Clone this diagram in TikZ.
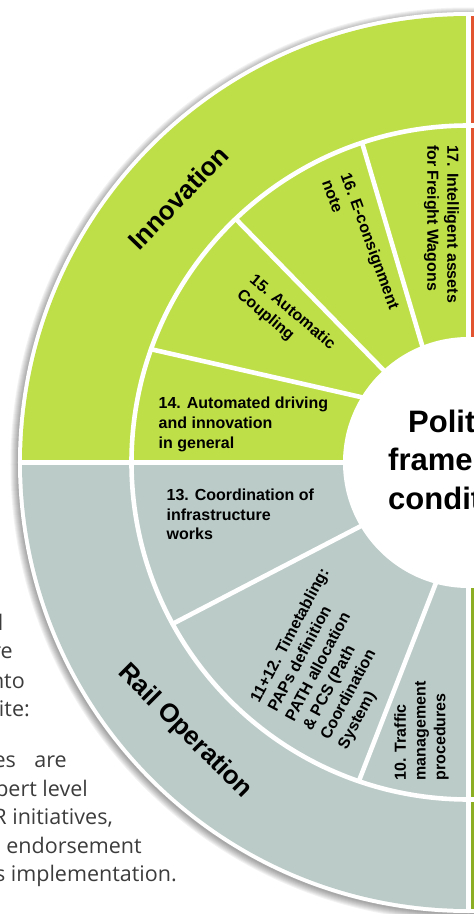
\documentclass[tikz,border=0pt]{standalone}
\usepackage{fontspec}
\setmainfont{Liberation Sans}
\newfontfamily\bodyfont{Open Sans}
\usepackage{tikz}

\definecolor{innov}{RGB}{191,223,72}
\definecolor{railop}{RGB}{187,203,200}
\definecolor{polred}{RGB}{226,84,47}
\definecolor{polgreen}{RGB}{140,174,35}
\definecolor{bodygrey}{RGB}{60,60,60}

\begin{document}
\begin{tikzpicture}[x=1pt,y=1pt,
    sep/.style={white,line width=4.6pt},
    area/.style={font=\bfseries\fontsize{26}{30}\selectfont,inner sep=0pt},
    item/.style={font=\bfseries\fontsize{16}{19.8}\selectfont,align=left,inner sep=0pt},
    core/.style={font=\bfseries\fontsize{31}{38}\selectfont,inner sep=0pt,anchor=base west},
    body/.style={font=\bodyfont\fontsize{21.5}{28}\selectfont,text=bodygrey,inner sep=0pt,anchor=base east}]
  \clip (-468.5,-451.5) rectangle (5.5,462.5);

  % paragraph running round the wheel
  \node[body,font=\bodyfont\bfseries\fontsize{21.5}{28}\selectfont] (t1) at (-465,-167.5) {l};
  \node[body] (t2) at (-455.5,-195.5) {re};
  \node[body] (t3) at (-443.5,-225.5) {nto};
  \node[body] (t4) at (-438.5,-253.5) {ite:};
  \node[body] (t5) at (-401.5,-304.5) {es\hspace{13pt} are};
  \node[body] (t6) at (-380.5,-333.5) {pert level};
  \node[body] (t7) at (-355.5,-361.5) {R initiatives,};
  \node[body] (t8) at (-326.5,-390.5) {l endorsement};
  \node[body] (t9) at (-291.5,-418.5) {s implementation.};

  % wheel
  \foreach \k in {1,...,8}
    \fill[black,opacity=0.05] (-1,-2) circle (449+\k);
  \fill[white] (0,0) circle (450.5);
  \fill[polred] (0,0) -- (0:446.5) arc[start angle=0,end angle=90,radius=446.5] -- cycle;
  \fill[innov] (0,0) -- (90:446.5) arc[start angle=90,end angle=180,radius=446.5] -- cycle;
  \fill[railop] (0,0) -- (180:446.5) arc[start angle=180,end angle=270,radius=446.5] -- cycle;
  \fill[polgreen] (0,0) -- (270:446.5) arc[start angle=270,end angle=360,radius=446.5] -- cycle;

  \draw[sep] (0,0) circle (337);
  \foreach \a in {90,180,270}
    \draw[sep] (\a:120) -- (\a:448);
  \draw[sep] (148.4:124) -- (160.4:339); % 14 | 15
  \draw[sep] (132.6:124) -- (133.7:339); % 15 | 16
  \draw[sep] (111.7:124) -- (108.4:339); % 16 | 17
  \draw[sep] (210.6:124) -- (208.6:339); % 13 | 11+12
  \draw[sep] (254.9:124) -- (251.0:339); % 11+12 | 10
  \fill[white] (0,0) circle (125.5);

  \node[area,rotate=46] (inno) at (137.6:393) {Innovation};
  \node[area,rotate=-45] (rail) at (223.5:391) {Rail Operation};

  \node[item,anchor=north west] (i14) at (-310,65.8) {14. Automated driving\\and innovation\\in general};
  \node[item,rotate=-40] (i15) at (-182.7,142.5) {15. Automatic\\Coupling};
  \node[item,rotate=-70] (i16) at (-107.4,218.1) {16. E-consignment\\note};
  \node[item,rotate=-90] (i17) at (-27,238.5) {17. Intelligent assets\\for Freight Wagons};
  \node[item,anchor=north west] (i13) at (-302,-26) {13. Coordination of\\infrastructure\\works};
  \node[item,rotate=62] (i11) at (-134.2,-196.5) {11+12. Timetabling:\\PAPs definition\\PATH allocation\\\& PCS (Path\\Coordination\\System)};
  \node[item,rotate=90] (i10) at (-47,-268.5) {10. Traffic\\management\\procedures};

  \node[core] (c1) at (-60.5,30.5) {Polit};
  \node[core] (c2) at (-80.5,-8) {frame};
  \node[core] (c3) at (-80.5,-46.5) {condit};
\end{tikzpicture}
\end{document}
